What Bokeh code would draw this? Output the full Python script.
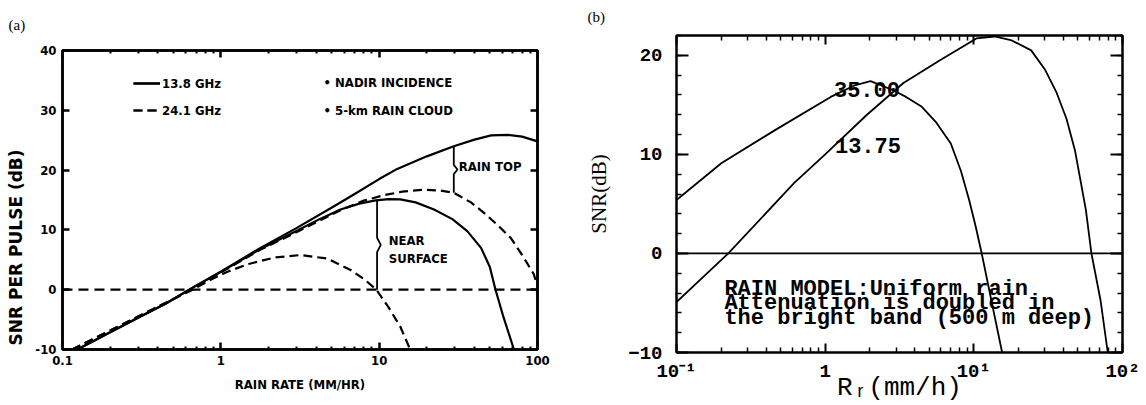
import math
import numpy as np
from bokeh.plotting import figure
from bokeh.layouts import row
from bokeh.models import (Range1d, LinearAxis, LogAxis, FixedTicker, Label, Title,
                          Legend, LegendItem, CustomJSTickFormatter)
from bokeh.embed import file_html
from bokeh.resources import INLINE

# ---------------- (a) SNR per pulse, nadir incidence, 5-km rain cloud ----------------
rate_138_top = [0.124, 0.2, 0.3, 0.45, 0.66, 1.0, 1.78, 3.0, 5.0, 7.0, 10.0, 13.0,
                20.0, 29.6, 40.0, 51.0, 65.0, 80.0, 100.0]
snr_138_top = [-10.0, -7.1, -4.7, -2.3, 0.3, 3.0, 7.0, 10.3, 13.7, 16.0, 18.5, 20.2,
               22.3, 24.0, 25.1, 25.8, 25.9, 25.6, 24.8]

rate_138_surf = [0.124, 0.2, 0.3, 0.45, 0.66, 1.0, 1.78, 3.0, 4.2, 5.7, 7.5, 9.5, 11.5,
                 13.6, 17.0, 22.2, 29.0, 36.0, 44.0, 50.0, 54.3, 61.0, 71.0]
snr_138_surf = [-10.0, -7.1, -4.7, -2.3, 0.3, 3.0, 6.8, 9.8, 11.8, 13.4, 14.4, 14.95, 15.15,
                15.1, 14.6, 13.4, 11.8, 9.8, 7.0, 3.8, 0.0, -4.6, -10.0]

rate_241_top = [0.115, 0.256, 0.45, 0.66, 1.0, 1.78, 3.0, 5.7, 8.0, 10.7, 14.0, 19.0, 24.0,
                29.6, 38.0, 45.7, 56.0, 67.6, 80.0, 94.7, 100.0]
snr_241_top = [-10.0, -5.4, -2.2, 0.0, 2.9, 6.7, 9.6, 13.3, 14.9, 15.8, 16.4, 16.7, 16.6,
               16.2, 14.6, 12.9, 10.8, 8.7, 5.8, 2.6, 0.6]

rate_241_surf = [0.115, 0.256, 0.45, 0.66, 0.9, 1.1, 1.5, 2.2, 3.2, 4.7, 6.6, 8.0, 9.6,
                 11.5, 13.6, 15.7]
snr_241_surf = [-10.0, -5.4, -2.2, 0.0, 1.9, 3.0, 4.3, 5.4, 5.8, 5.2, 3.3, 1.8, 0.0,
                -3.0, -6.2, -10.0]

zero_rate = [0.1, 100.0]
zero_snr = [0.0, 0.0]

a_x_ticks = [0.1, 1, 10, 100]
a_x_labels = ["0.1", "1", "10", "100"]
a_y_ticks = [-10, 0, 10, 20, 30, 40]
a_y_labels = ["-10", "0", "10", "20", "30", "40"]

rain_top_rate = 29.6      # where the rain-top gap is marked
near_surface_rate = 9.7   # where the near-surface gap is marked

# ---------------- (b) SNR vs rain rate, 13.75 and 35.00 GHz ----------------
rate_35 = [0.1, 0.2, 0.466, 1.09, 1.6, 2.02, 2.84, 3.5, 4.47, 5.6, 7.0, 8.2, 9.3, 10.3,
           11.3, 13.1, 15.5]
snr_35 = [5.4, 9.1, 12.5, 15.8, 17.0, 17.4, 16.5, 15.8, 14.8, 13.2, 11.1, 8.3, 5.4, 2.7,
          0.0, -4.7, -10.0]

rate_1375 = [0.1, 0.223, 0.617, 1.0, 1.91, 3.36, 5.92, 10.4, 13.8, 18.0, 24.3, 30.0, 36.1,
             42.0, 47.9, 56.7, 61.8, 71.1, 79.6]
snr_1375 = [-4.9, 0.0, 7.1, 10.0, 14.0, 17.2, 19.5, 21.7, 21.9, 21.5, 20.5, 18.6, 16.2,
            13.6, 10.4, 4.4, 0.0, -4.7, -10.0]

b_x_ticks = [0.1, 1, 10, 100]
b_x_labels = ["10\u207b\u00b9", "1", "10\u00b9", "10\u00b2"]
b_y_ticks = [-10, 0, 10, 20]
b_y_labels = ["\u221210", "0", "10", "20"]
b_y_minor = list(range(-10, 23, 2))

rain_model_text = ["RAIN MODEL:Uniform rain",
                   "Attenuation is doubled in",
                   "the bright band (500 m deep)"]

LOG_MINOR = [k * 10.0 ** e for e in (-1, 0, 1) for k in range(2, 10)]

SANS_C = "DejaVu Sans Condensed"
MONO = "Liberation Mono"
SERIF = "Liberation Serif"


def at(rates, snrs, r):
    """Curve value at rate r, interpolated in log-rate."""
    return float(np.interp(math.log10(r), np.log10(rates), snrs))


def blank_formatter():
    return CustomJSTickFormatter(code="return ''")


def style_axis(ax, lw, maj_in, min_in, font, size, weight, standoff):
    ax.axis_line_width = lw
    ax.axis_line_color = "black"
    ax.major_tick_line_width = lw
    ax.minor_tick_line_width = max(1.0, lw - 0.5)
    ax.major_tick_in = maj_in
    ax.major_tick_out = 0
    ax.minor_tick_in = min_in
    ax.minor_tick_out = 0
    ax.major_label_text_font = font
    ax.major_label_text_font_size = size
    ax.major_label_text_font_style = weight
    ax.major_label_text_color = "black"
    ax.major_label_standoff = standoff


def brace(p, x, lo, hi, lw):
    mid = 0.5 * (lo + hi)
    h = 0.06 * (hi - lo) + 0.3
    xs = [x, x, x * 1.055, x, x]
    ys = [hi, mid + h, mid, mid - h, lo]
    p.line(xs, ys, line_color="black", line_width=lw)


def panel_title(p, text, offset, standoff):
    t = p.title
    t.text = text
    t.align = "left"
    t.vertical_align = "top"
    t.offset = offset
    t.standoff = standoff
    t.text_font = SERIF
    t.text_font_size = "15px"
    t.text_font_style = "normal"
    t.text_color = "black"


# ================= panel (a) =================
pa = figure(width=573, height=405, x_axis_type="log",
            x_range=Range1d(0.1, 100), y_range=Range1d(-10, 40),
            output_backend="svg", toolbar_location=None,
            min_border_left=62, min_border_right=36,
            min_border_top=49, min_border_bottom=56)
pa.xgrid.visible = False
pa.ygrid.visible = False
pa.outline_line_color = "black"
pa.outline_line_width = 2.5
pa.background_fill_color = "white"
pa.border_fill_color = "white"
panel_title(pa, "(a)", -54, 32)

fa = dict(font=SANS_C, size="13px", weight="bold")
xa = pa.below[0]
xa.ticker = FixedTicker(ticks=a_x_ticks, minor_ticks=LOG_MINOR)
xa.major_label_overrides = dict(zip(a_x_ticks, a_x_labels))
style_axis(xa, 2.5, 7, 3, standoff=6, **fa)
xa.axis_label = "RAIN RATE (MM/HR)"
xa.axis_label_text_font = SANS_C
xa.axis_label_text_font_size = "13px"
xa.axis_label_text_font_style = "bold"
xa.axis_label_text_color = "black"
xa.axis_label_standoff = 9

ya = pa.left[0]
ya.ticker = FixedTicker(ticks=a_y_ticks, minor_ticks=[])
ya.major_label_overrides = dict(zip(a_y_ticks, a_y_labels))
style_axis(ya, 2.5, 7, 0, standoff=6, **fa)

top_a = LogAxis(ticker=FixedTicker(ticks=a_x_ticks, minor_ticks=LOG_MINOR),
                formatter=blank_formatter())
style_axis(top_a, 2.5, 7, 3, standoff=0, font=SANS_C, size="1px", weight="normal")
pa.add_layout(top_a, "above")
right_a = LinearAxis(ticker=FixedTicker(ticks=a_y_ticks, minor_ticks=[]),
                     formatter=blank_formatter())
style_axis(right_a, 2.5, 7, 0, standoff=0, font=SANS_C, size="1px", weight="normal")
pa.add_layout(right_a, "right")

LW_A = 2.2
DASH = "9 5"
r_top = pa.line(rate_138_top, snr_138_top, line_color="black", line_width=LW_A)
r_surf = pa.line(rate_138_surf, snr_138_surf, line_color="black", line_width=LW_A)
d_top = pa.line(rate_241_top, snr_241_top, line_color="black", line_width=LW_A,
                line_dash=DASH)
d_surf = pa.line(rate_241_surf, snr_241_surf, line_color="black", line_width=LW_A,
                 line_dash=DASH)
pa.line(zero_rate, zero_snr, line_color="black", line_width=LW_A, line_dash="10 6")

# gap markers
brace(pa, rain_top_rate, at(rate_241_top, snr_241_top, rain_top_rate),
      at(rate_138_top, snr_138_top, rain_top_rate), 1.8)
brace(pa, near_surface_rate, 0.0,
      at(rate_138_surf, snr_138_surf, near_surface_rate), 1.8)

lab_a = dict(text_font=SANS_C, text_font_size="13px", text_font_style="bold",
             text_color="black", text_baseline="middle")
pa.add_layout(Label(x=31.8, y=20.6, text="RAIN TOP", **lab_a))
pa.add_layout(Label(x=11.5, y=8.2, text="NEAR", **lab_a))
pa.add_layout(Label(x=11.5, y=5.2, text="SURFACE", **lab_a))
pa.add_layout(Label(x=4.45, y=34.6, text="\u2022 NADIR INCIDENCE", **lab_a))
pa.add_layout(Label(x=4.45, y=30.0, text="\u2022 5-km RAIN CLOUD", **lab_a))

legend_a = Legend(items=[LegendItem(label="13.8 GHz", renderers=[r_top, r_surf]),
                         LegendItem(label="24.1 GHz", renderers=[d_top, d_surf])],
                  location=(71, 229), orientation="vertical",
                  glyph_width=27, glyph_height=20, label_height=20,
                  label_standoff=2, spacing=7, padding=0, margin=0,
                  border_line_alpha=0, background_fill_alpha=0,
                  label_text_font=SANS_C, label_text_font_size="13px",
                  label_text_font_style="bold", label_text_color="black",
                  label_text_baseline="middle")
pa.add_layout(legend_a)

pa.add_layout(Title(text="SNR PER PULSE (dB)", align="left", vertical_align="top",
                    offset=4, standoff=9, text_font="DejaVu Sans",
                    text_font_size="17px", text_font_style="bold",
                    text_color="black"), "left")

# ================= panel (b) =================
pb = figure(width=573, height=405, x_axis_type="log",
            x_range=Range1d(0.1, 100), y_range=Range1d(-10, 22),
            output_backend="svg", toolbar_location=None,
            min_border_left=103, min_border_right=24,
            min_border_top=35, min_border_bottom=52)
pb.xgrid.visible = False
pb.ygrid.visible = False
pb.outline_line_color = "black"
pb.outline_line_width = 2
pb.background_fill_color = "white"
pb.border_fill_color = "white"
panel_title(pb, "(b)", -89, 17)

fb = dict(font=MONO, size="19px", weight="bold")
xb = pb.below[0]
xb.ticker = FixedTicker(ticks=b_x_ticks, minor_ticks=LOG_MINOR)
xb.major_label_overrides = dict(zip(b_x_ticks, b_x_labels))
style_axis(xb, 2, 9, 5, standoff=8, **fb)
xb.axis_label = "R\u1d63(mm/h)"
xb.axis_label_text_font = MONO
xb.axis_label_text_font_size = "26px"
xb.axis_label_text_font_style = "normal"
xb.axis_label_text_color = "black"
xb.axis_label_standoff = -13

yb = pb.left[0]
yb.ticker = FixedTicker(ticks=b_y_ticks, minor_ticks=b_y_minor)
yb.major_label_overrides = dict(zip(b_y_ticks, b_y_labels))
style_axis(yb, 2, 12, 5, standoff=14, **fb)
yb.axis_label = "SNR(dB)"
yb.axis_label_text_font = SERIF
yb.axis_label_text_font_size = "21px"
yb.axis_label_text_font_style = "normal"
yb.axis_label_text_color = "black"
yb.axis_label_standoff = 14

top_b = LogAxis(ticker=FixedTicker(ticks=b_x_ticks, minor_ticks=LOG_MINOR),
                formatter=blank_formatter())
style_axis(top_b, 2, 9, 5, standoff=0, font=MONO, size="1px", weight="normal")
pb.add_layout(top_b, "above")
right_b = LinearAxis(ticker=FixedTicker(ticks=b_y_ticks, minor_ticks=b_y_minor),
                     formatter=blank_formatter())
style_axis(right_b, 2, 12, 5, standoff=0, font=MONO, size="1px", weight="normal")
pb.add_layout(right_b, "right")

LW_B = 1.8
pb.line(rate_35, snr_35, line_color="black", line_width=LW_B)
pb.line(rate_1375, snr_1375, line_color="black", line_width=LW_B)
pb.line(zero_rate, zero_snr, line_color="black", line_width=LW_B)

lab_b = dict(text_font=MONO, text_font_size="22px", text_font_style="bold",
             text_color="black", text_baseline="middle", text_align="center")
pb.add_layout(Label(x=1.91, y=16.5, text="35.00", **lab_b))
pb.add_layout(Label(x=1.94, y=10.9, text="13.75", **lab_b))

model_y = [-3.64, -5.06, -6.56]
for line_text, yy in zip(rain_model_text, model_y):
    pb.add_layout(Label(x=0.21, y=yy, text=line_text, text_font=MONO,
                        text_font_size="22px", text_font_style="bold",
                        text_color="black", text_baseline="middle"))

# each panel keeps its own frame position inside the row
for p in (pa, pb):
    if "frame_align" in p.properties():
        p.frame_align = False

layout = row(pa, pb, spacing=0)
open("out.html", "w").write(file_html(layout, INLINE))
